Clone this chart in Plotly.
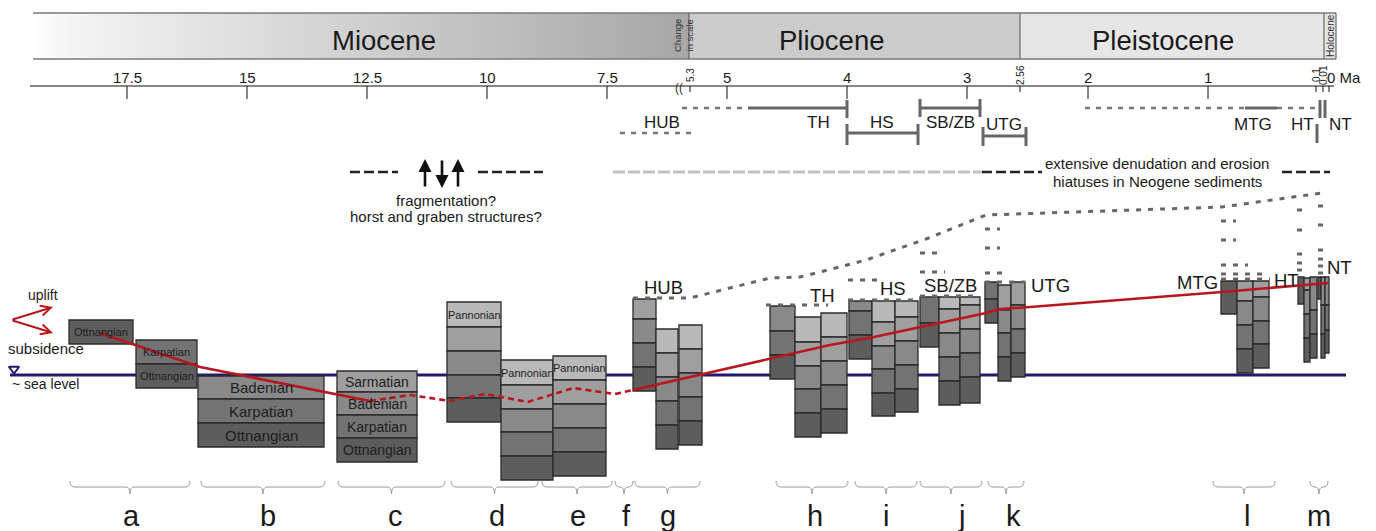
import plotly.graph_objects as go

FONT = "Liberation Sans, Arial, sans-serif"
NARROW = "Liberation Sans Narrow, Arial Narrow, Liberation Sans, Arial, sans-serif"

# ---------------- epoch band ----------------
epoch_names = ["Miocene", "Pliocene", "Pleistocene"]
epoch_label_x = [384, 832, 1163]
epoch_x0 = [33, 689, 1020]
epoch_x1 = [677, 1020, 1324]
epoch_fill = ["gradient", "#cbcbcb", "#e6e6e6"]
small_epoch_names = ["Change<br>in scale", "Holocene"]
small_epoch_x0 = [677, 1324]
small_epoch_x1 = [689, 1336]
band_y = [13, 59]

# ---------------- time axis ----------------
axis_y = 86
tick_labels = ["17.5", "15", "12.5", "10", "7.5", "5", "4", "3", "2", "1"]
tick_pos = [127, 247, 367, 487, 607, 727, 847, 967, 1088, 1208]
small_tick_labels = ["5.3", "2.56", "0.1", "0.01"]
small_tick_pos = [690, 1020, 1316, 1323]
zero_pos = 1329

# ---------------- stratigraphic columns ----------------
col_x0 = [69, 136, 198, 337, 447, 501, 553, 633, 656, 679, 770, 795, 821, 849, 872, 895,
          920, 939, 960, 985, 998, 1011, 1221, 1237, 1253, 1298, 1304, 1310, 1318, 1321, 1325]
col_x1 = [133, 197, 324, 417, 501, 553, 606, 656, 678, 702, 795, 821, 847, 872, 895, 918,
          939, 960, 980, 998, 1011, 1025, 1237, 1253, 1269, 1304, 1310, 1317, 1321, 1325, 1329]
col_bounds = [
    [320, 344],
    [340, 364, 388],
    [376, 399, 423, 447],
    [371, 392, 415, 438, 462],
    [302, 327, 351, 375, 398, 422],
    [360, 385, 409, 432, 456, 480],
    [356, 380, 404, 428, 452, 476],
    [299, 319, 343, 367, 391],
    [329, 353, 377, 401, 425, 449],
    [325, 349, 373, 397, 421, 445],
    [306, 331, 355, 379],
    [317, 342, 366, 389, 413, 437],
    [313, 337, 361, 385, 409, 433],
    [301, 311, 335, 359],
    [301, 322, 346, 369, 393, 416],
    [301, 317, 341, 365, 389, 412],
    [297, 323, 347],
    [297, 309, 333, 357, 381, 405],
    [297, 305, 329, 353, 377, 403],
    [282, 299, 323],
    [285, 310, 333, 357, 381],
    [282, 305, 329, 353, 377],
    [281, 314],
    [281, 301, 325, 349, 373],
    [281, 297, 321, 344, 368],
    [277, 304],
    [278, 290, 314, 338, 362],
    [277, 310, 334, 358],
    [277, 299],
    [277, 305, 334, 358],
    [277, 305, 330, 353],
]
col_labels = [
    ["Ottnangian"],
    ["Karpatian", "Ottnangian"],
    ["Badenian", "Karpatian", "Ottnangian"],
    ["Sarmatian", "Badenian", "Karpatian", "Ottnangian"],
    ["Pannonian"],
    ["Pannonian"],
    ["Pannonian"],
]
col_label_size = [11, 11, 15, 14, 11, 11, 11]

# ---------------- sea level / movement curve ----------------
sea_level_y = 375
sea_level_x = [10, 1346]
red_solid1_x = [100, 200, 370]
red_solid1_y = [333, 367, 401]
red_dash_x = [370, 410, 450, 485, 528, 573, 615, 633]
red_dash_y = [401, 395, 401, 394, 402, 388, 394, 390]
red_solid2_x = [633, 830, 874, 942, 986, 1000, 1030, 1222, 1328]
red_solid2_y = [390, 345, 337, 322, 313, 309, 307, 292, 283]

# upper erosion surface
erosion_x = [633, 690, 770, 800, 820, 866, 926, 986, 1222, 1322]
erosion_y = [298, 298, 278, 277, 272, 260, 239, 215, 207, 193]
short_dash_x = [[766, 828], [848, 918], [848, 880], [920, 980], [920, 945], [920, 940],
                [985, 1025], [985, 1008], [985, 1000], [985, 1000],
                [1221, 1270], [1221, 1265], [1221, 1248], [1221, 1236], [1221, 1236],
                [1297, 1303], [1297, 1303], [1297, 1303], [1297, 1303], [1297, 1303],
                [1318, 1324], [1318, 1324], [1318, 1324], [1318, 1324], [1318, 1324], [1318, 1324]]
short_dash_y = [305, 300, 280, 296, 272, 253,
                282, 273, 248, 229,
                279, 274, 265, 240, 221,
                210, 230, 254, 263, 270,
                206, 225, 250, 259, 266, 273]

# ---------------- range row (formation ages) ----------------
range_solid_x = [[748, 847], [847, 918], [920, 980], [983, 1026], [1245, 1277]]
range_solid_y = [108, 133, 108, 136, 108]
range_vert_x = [847, 847, 918, 920, 980, 983, 1026, 1320, 1325, 1317]
range_vert_y = [[100, 118], [124, 145], [124, 145], [99, 117], [99, 117],
                [127, 146], [127, 146], [100, 118], [100, 118], [124, 143]]
range_dot_x = [[620, 692], [682, 748], [1085, 1245], [1277, 1316]]
range_dot_y = [133, 108, 108, 108]
range_names = ["HUB", "TH", "HS", "SB/ZB", "UTG", "MTG", "HT", "NT"]
range_name_x = [662, 818, 882, 950, 1004, 1253, 1302, 1340]
range_name_y = [122, 122, 122, 122, 124, 124, 124, 124]

# formation labels next to columns
form_names = ["HUB", "TH", "HS", "SB/ZB", "UTG", "MTG", "HT", "NT"]
form_x = [663, 822, 893, 950, 1050, 1197, 1286, 1339]
form_y = [287, 295, 288, 285, 285, 282, 280, 267]

# ---------------- denudation row ----------------
den_gray_x = [613, 982]
den_black_x = [[982, 1042], [1282, 1330], [350, 398], [478, 543]]
den_y = 172
frag_arrow_x = [425, 442, 458]
frag_arrow_dir = [1, -1, 1]

# ---------------- braces ----------------
brace_x0 = [70, 201, 338, 451, 542, 615, 635, 776, 855, 920, 988, 1213, 1310]
brace_x1 = [190, 325, 445, 538, 612, 633, 700, 848, 917, 982, 1024, 1275, 1328]
brace_letters = ["a", "b", "c", "d", "e", "f", "g", "h", "i", "j", "k", "l", "m"]
letter_x = [131, 268, 395, 497, 578, 626, 668, 815, 886, 961, 1013, 1247, 1319]

# ======================================================================
fig = go.Figure()
shapes = []
ann = []

def text(x, y, s, size, color="#1a1a1a", family=FONT, angle=0, xanchor="center"):
    ann.append(dict(x=x, y=y, text=s, showarrow=False, xref="x", yref="y",
                    font=dict(size=size, color=color, family=family),
                    textangle=angle, xanchor=xanchor, yanchor="middle"))

# sea level (below columns)
shapes.append(dict(type="line", layer="below", x0=sea_level_x[0], x1=sea_level_x[1],
                   y0=sea_level_y, y1=sea_level_y, line=dict(color="#231a6e", width=3)))

# columns
palette = ["#5d5d5d", "#737373", "#898989", "#9f9f9f", "#b9b9b9"]
for ci, (x0, x1, b) in enumerate(zip(col_x0, col_x1, col_bounds)):
    n = len(b) - 1
    for li in range(n):
        idx = n - 1 - li
        shapes.append(dict(type="rect", layer="below", x0=x0, x1=x1, y0=b[li], y1=b[li + 1],
                           fillcolor=palette[min(idx, 4)],
                           line=dict(color="#2b2b2b", width=1.3)))
    if ci < len(col_labels):
        for li, lab in enumerate(col_labels[ci]):
            text((x0 + x1) / 2, (b[li] + b[li + 1]) / 2, lab, col_label_size[ci], color="#1e1e1e")

# epoch band
fig.add_trace(go.Scatter(x=[epoch_x0[0], epoch_x1[0], epoch_x1[0], epoch_x0[0], epoch_x0[0]],
                         y=[band_y[0], band_y[0], band_y[1], band_y[1], band_y[0]],
                         mode="none", fill="toself", hoverinfo="skip", showlegend=False,
                         fillgradient=dict(type="horizontal",
                                           colorscale=[[0, "#ffffff"], [0.06, "#f4f4f4"],
                                                       [0.5, "#d0d0d0"], [1, "#a8a8a8"]])))
for x0, x1, f in zip(epoch_x0[1:], epoch_x1[1:], epoch_fill[1:]):
    shapes.append(dict(type="rect", x0=x0, x1=x1, y0=band_y[0], y1=band_y[1],
                       fillcolor=f, line=dict(width=0), layer="below"))
shapes.append(dict(type="rect", x0=small_epoch_x0[0], x1=small_epoch_x1[0], y0=band_y[0], y1=band_y[1],
                   fillcolor="#a8a8a8", line=dict(width=0), layer="below"))
shapes.append(dict(type="rect", x0=small_epoch_x0[1], x1=small_epoch_x1[1], y0=band_y[0], y1=band_y[1],
                   fillcolor="#e6e6e6", line=dict(width=0), layer="below"))
for yy in band_y:
    shapes.append(dict(type="line", x0=epoch_x0[0], x1=small_epoch_x1[1], y0=yy, y1=yy,
                       line=dict(color="#7a7a7a", width=1.5)))
for xx in [small_epoch_x1[0], epoch_x1[1], small_epoch_x0[1], small_epoch_x1[1]]:
    shapes.append(dict(type="line", x0=xx, x1=xx, y0=band_y[0], y1=band_y[1],
                       line=dict(color="#6a6a6a", width=1.2)))
for name, lx in zip(epoch_names, epoch_label_x):
    text(lx, 40, name, 27.5)
text((small_epoch_x0[0] + small_epoch_x1[0]) / 2, 36, small_epoch_names[0], 9.5, angle=-90, color="#333")
text((small_epoch_x0[1] + small_epoch_x1[1]) / 2, 36, small_epoch_names[1], 10, angle=-90, color="#333")

# time axis
shapes.append(dict(type="line", x0=30, x1=1334, y0=axis_y, y1=axis_y, line=dict(color="#111", width=1.2)))
for lab, p in zip(tick_labels, tick_pos):
    shapes.append(dict(type="line", x0=p, x1=p, y0=axis_y, y1=axis_y + 13, line=dict(color="#111", width=1)))
    text(p, 77, lab, 15)
for lab, p in zip(small_tick_labels, small_tick_pos):
    shapes.append(dict(type="line", x0=p, x1=p, y0=axis_y, y1=axis_y + 6, line=dict(color="#111", width=1)))
    text(p, 75, lab, 10, angle=-90)
shapes.append(dict(type="line", x0=zero_pos, x1=zero_pos, y0=axis_y, y1=axis_y + 6, line=dict(color="#111", width=1)))
text(zero_pos - 4, 77, "0 Ma", 15, xanchor="left")
text(679, 88, "((", 12, color="#333")

# lines helper
def line(xs, ys, color, width, dash="solid"):
    fig.add_trace(go.Scatter(x=xs, y=ys, mode="lines", hoverinfo="skip", showlegend=False,
                             line=dict(color=color, width=width, dash=dash)))

# range row
for xs, yy in zip(range_solid_x, range_solid_y):
    line(xs, [yy, yy], "#666666", 3)
for xx, ys in zip(range_vert_x, range_vert_y):
    line([xx, xx], ys, "#666666", 3)
for xs, yy in zip(range_dot_x, range_dot_y):
    line(xs, [yy, yy], "#777777", 2.5, "5px,6px")
for n, x, y in zip(range_names, range_name_x, range_name_y):
    text(x, y, n, 17)

# denudation row
line(den_gray_x, [den_y, den_y], "#c2c2c2", 3, "12px,3px")
for xs in den_black_x:
    line(xs, [den_y, den_y], "#222222", 2.5, "10px,4px")
text(1157, 163, "extensive denudation and erosion", 15)
text(1157, 181, "hiatuses in Neogene sediments", 15)
text(446, 200, "fragmentation?", 15)
text(446, 216, "horst and graben structures?", 15)
for ax_, d in zip(frag_arrow_x, frag_arrow_dir):
    y_tip, y_tail = (159, 188) if d > 0 else (188, 159)
    ann.append(dict(x=ax_, y=y_tip, ax=ax_, ay=y_tail, xref="x", yref="y", axref="x", ayref="y",
                    showarrow=True, arrowhead=2, arrowsize=1.0, arrowwidth=2.6, arrowcolor="#111",
                    text=""))

# erosion surface and short dashes
line(erosion_x, erosion_y, "#666666", 3, "5px,7px")
for xs, yy in zip(short_dash_x, short_dash_y):
    line(xs, [yy, yy], "#666666", 3, "5px,7px")

# red curve
line(red_solid1_x, red_solid1_y, "#b81720", 2.6)
line(red_dash_x, red_dash_y, "#b81720", 2.6, "6px,4px")
line(red_solid2_x, red_solid2_y, "#b81720", 2.6)

# formation labels
for n, x, y in zip(form_names, form_x, form_y):
    text(x, y, n, 18.5)

# uplift / subsidence arrows
for tip in [(53, 307), (53, 333)]:
    ann.append(dict(x=tip[0], y=tip[1], ax=11, ay=320, xref="x", yref="y", axref="x", ayref="y",
                    showarrow=True, arrowhead=5, arrowsize=1.0, arrowwidth=2, arrowcolor="#b81720",
                    text=""))
text(43, 295, "uplift", 14)
text(46, 348, "subsidence", 15)
text(45, 384, "~ sea level", 14)
fig.add_trace(go.Scatter(x=[14], y=[369], mode="markers", hoverinfo="skip", showlegend=False,
                         marker=dict(symbol="triangle-down-open", size=9, color="#231a6e",
                                     line=dict(width=2, color="#231a6e"))))

# braces
for x0, x1 in zip(brace_x0, brace_x1):
    m = (x0 + x1) / 2
    path = (f"M{x0},481 Q{x0},487 {x0+5},487 L{m-4},487 Q{m},487 {m},494 "
            f"Q{m},487 {m+4},487 L{x1-5},487 Q{x1},487 {x1},481")
    shapes.append(dict(type="path", path=path, line=dict(color="#9a9a9a", width=1)))
for l, x in zip(brace_letters, letter_x):
    text(x, 516, l, 29, family=NARROW)

fig.update_layout(
    width=1376, height=531, margin=dict(l=0, r=0, t=0, b=0),
    paper_bgcolor="white", plot_bgcolor="white",
    xaxis=dict(range=[0, 1376], visible=False, fixedrange=True),
    yaxis=dict(range=[531, 0], visible=False, fixedrange=True),
    shapes=shapes, annotations=ann, showlegend=False,
)
fig.write_html("out.html", config={"displayModeBar": False},
               post_script="document.body.style.margin='0';document.body.style.overflow='hidden';")
